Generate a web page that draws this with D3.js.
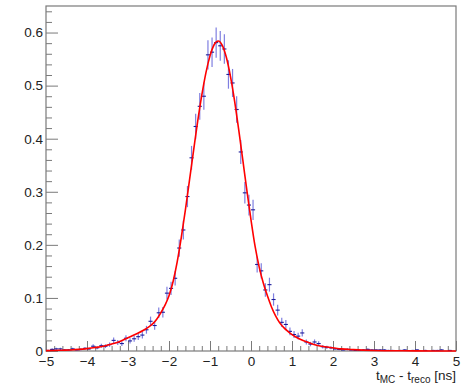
<!DOCTYPE html>
<html><head><meta charset="utf-8">
<script src="https://cdn.jsdelivr.net/npm/d3@7"></script>
<style>body{margin:0;background:#fff}svg{display:block}</style>
</head><body>
<script>
// ---- data ----
const binLow = -5, binWidth = 0.1;
const counts = [0.001,0.003,0.004,0.004,0.002,0.002,0.004,0.002,0.003,0.005,
0.004,0.009,0.006,0.010,0.009,0.012,0.020,0.016,0.014,0.024,
0.019,0.023,0.027,0.030,0.040,0.056,0.048,0.072,0.073,0.109,
0.118,0.137,0.194,0.228,0.291,0.364,0.423,0.461,0.480,0.558,
0.563,0.581,0.575,0.569,0.521,0.505,0.455,0.375,0.298,0.275,
0.266,0.163,0.151,0.115,0.125,0.097,0.077,0.054,0.050,0.037,
0.031,0.028,0.034,0.017,0.013,0.017,0.014,0.008,0.007,0.006,
0.004,0.003,0.002,0.003,0.002,0.001,0.001,0.002,0.003,0.002,
0.002,0.002,0.002,0.001,0.001,0,0.001,0.002,0,0.001,
0.002,0,0.001,0,0.001,0.001,0.002,0,0.001,0];
const errors = [.0012,.0020,.0023,.0023,.0017,.0017,.0023,.0017,.0020,.0026,
.0023,.0035,.0029,.0037,.0035,.0041,.0052,.0047,.0044,.0057,
.0051,.0056,.0061,.0064,.0074,.0088,.0081,.0100,.0100,.0122,
.0127,.0137,.0163,.0177,.0200,.0224,.0241,.0252,.0257,.0277,
.0278,.0283,.0281,.0280,.0268,.0264,.0250,.0227,.0203,.0195,
.0191,.0150,.0144,.0126,.0131,.0116,.0103,.0086,.0083,.0071,
.0065,.0062,.0068,.0048,.0042,.0048,.0044,.0033,.0031,.0029,
.0023,.0020,.0017,.0020,.0017,.0012,.0012,.0017,.0020,.0017,
.0017,.0017,.0017,.0012,.0012,0,.0012,.0017,0,.0012,
.0017,0,.0012,0,.0012,.0012,.0017,0,.0012,0];
const fitX = [-5.0,-4.8,-4.6,-4.4,-4.2,-4.0,-3.8,-3.6,-3.4,-3.2,-3.0,-2.8,-2.6,-2.5,-2.4,-2.3,-2.2,-2.1,-2.0,-1.9,-1.8,-1.7,-1.6,-1.5,-1.4,-1.3,-1.2,-1.1,-1.0,-0.9,-0.8,-0.7,-0.6,-0.5,-0.4,-0.3,-0.2,-0.1,0.0,0.1,0.2,0.3,0.4,0.5,0.6,0.7,0.8,0.9,1.0,1.2,1.4,1.6,1.8,2.0,2.2,2.5,3.0,3.5,4.0,5.0];
const fitY = [0.0007,0.001,0.0015,0.002,0.003,0.0045,0.0065,0.009,0.013,0.018,0.025,0.032,0.040,0.045,0.051,0.060,0.072,0.086,0.104,0.131,0.168,0.214,0.266,0.322,0.378,0.433,0.482,0.524,0.556,0.577,0.584,0.576,0.553,0.517,0.471,0.417,0.360,0.302,0.247,0.197,0.158,0.128,0.104,0.083,0.066,0.053,0.044,0.037,0.031,0.022,0.016,0.011,0.008,0.006,0.004,0.0025,0.001,0.0005,0.0002,0.0001];
const xMajor = [-5,-4,-3,-2,-1,0,1,2,3,4,5];
const yMajor = [0,0.1,0.2,0.3,0.4,0.5,0.6];

// ---- chart ----
const W = 473, H = 391;
const L = 46, R = 456, T = 6, B = 351;
const font = "'Liberation Sans', Arial, Helvetica, sans-serif";
const svg = d3.select("body").append("svg").attr("width", W).attr("height", H);
svg.append("rect").attr("width", W).attr("height", H).attr("fill", "#fff");

const x = d3.scaleLinear().domain([-5, 5]).range([L, R]);
const y = d3.scaleLinear().domain([0, 0.65]).range([B, T]);

const axisColor = "#7a7a7a";
const xMinor = d3.range(-50, 51, 2).map(v => v / 10).filter(v => !xMajor.includes(v));
const yMinor = d3.range(0, 66, 2).map(v => v / 100).filter(v => Math.abs(v * 10 - Math.round(v * 10)) > 1e-6);

function styleAxis(g) {
  g.select(".domain").remove();
  g.selectAll("line").attr("stroke", axisColor);
  g.selectAll("text").attr("fill", "#222").attr("font-family", font).attr("font-size", "13.5px");
}

svg.append("g").attr("transform", `translate(0,${B})`)
  .call(d3.axisBottom(x).tickValues(xMinor).tickSize(-5).tickFormat(""))
  .call(styleAxis);
svg.append("g").attr("transform", `translate(0,${B})`)
  .call(d3.axisBottom(x).tickValues(xMajor).tickSize(-10).tickPadding(5)
        .tickFormat(d => d < 0 ? "\u2212" + Math.abs(d) : String(d)))
  .call(styleAxis);
svg.append("g").attr("transform", `translate(${L},0)`)
  .call(d3.axisLeft(y).tickValues(yMinor).tickSize(-6).tickFormat(""))
  .call(styleAxis);
svg.append("g").attr("transform", `translate(${L},0)`)
  .call(d3.axisLeft(y).tickValues(yMajor).tickSize(-12).tickPadding(3)
        .tickFormat(d => d === 0 ? "0" : d.toFixed(1)))
  .call(styleAxis);

// frame
svg.append("rect").attr("x", L).attr("y", T).attr("width", R - L).attr("height", B - T)
  .attr("fill", "none").attr("stroke", axisColor).attr("stroke-width", 1.2);

// histogram points with errors
const bins = counts.map((v, i) => ({ lo: binLow + i * binWidth, hi: binLow + (i + 1) * binWidth, v, e: errors[i] }))
  .filter(d => d.v > 0);
const pts = svg.append("g");
pts.selectAll("line.ev").data(bins).enter().append("line")
  .attr("x1", d => x((d.lo + d.hi) / 2)).attr("x2", d => x((d.lo + d.hi) / 2))
  .attr("y1", d => y(Math.max(0, d.v - d.e))).attr("y2", d => y(d.v + d.e))
  .attr("stroke", "#7f7fe0").attr("stroke-width", 1.2);
pts.selectAll("line.eh").data(bins).enter().append("line")
  .attr("x1", d => x(d.lo)).attr("x2", d => x(d.hi))
  .attr("y1", d => y(d.v)).attr("y2", d => y(d.v))
  .attr("stroke", "#1c1c99").attr("stroke-width", 1.1);

// fit
const fit = fitX.map((v, i) => [v, fitY[i]]);
svg.append("path").datum(fit)
  .attr("d", d3.line().x(d => x(d[0])).y(d => y(d[1])).curve(d3.curveMonotoneX))
  .attr("fill", "none").attr("stroke", "#ff0000").attr("stroke-width", 1.6);

// axis title
const t = svg.append("text").attr("x", R).attr("y", 380).attr("text-anchor", "end")
  .attr("font-family", font).attr("font-size", "13.5px").attr("fill", "#222");
t.append("tspan").text("t");
t.append("tspan").attr("font-size", "10px").attr("dy", 3).text("MC");
t.append("tspan").attr("dy", -3).text(" - t");
t.append("tspan").attr("font-size", "10px").attr("dy", 3).text("reco");
t.append("tspan").attr("dy", -3).text(" [ns]");
</script>
</body></html>
